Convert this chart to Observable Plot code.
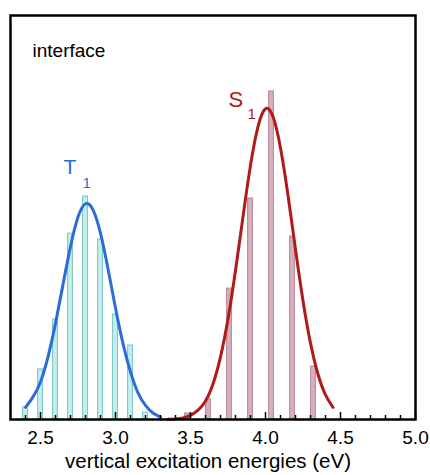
<!DOCTYPE html>
<html><head><meta charset="utf-8">
<script src="https://cdn.jsdelivr.net/npm/d3@7"></script>
<script src="https://cdn.jsdelivr.net/npm/@observablehq/plot@0.6"></script>
<style>body{margin:0;background:#fff}</style>
</head><body><div id="chart"></div>
<script>
// T1 histogram (relative frequency, arbitrary units)
const t1Energies = [2.4, 2.5, 2.6, 2.7, 2.8, 2.9, 3.0, 3.1, 3.2];
const t1Counts   = [3.0, 12.4, 24.8, 46.0, 55.2, 44.6, 26.0, 18.3, 1.7];
// S1 histogram
const s1Energies = [3.48, 3.62, 3.76, 3.90, 4.04, 4.18, 4.32];
const s1Counts   = [1.5, 5.0, 32.4, 54.7, 81.2, 45.3, 13.1];
// fitted curves
const t1CurveE = [2.40, 2.45, 2.50, 2.55, 2.60, 2.65, 2.70, 2.75, 2.80, 2.85, 2.90, 2.95, 3.00, 3.05, 3.10, 3.15, 3.20, 3.25, 3.30];
const t1CurveV = [3.0, 5.6, 9.3, 15.5, 23.8, 33.4, 42.8, 50.1, 53.4, 51.9, 46.1, 37.3, 27.6, 18.8, 11.8, 6.6, 3.5, 1.6, 0.6];
const s1CurveE = [3.35, 3.40, 3.45, 3.50, 3.55, 3.60, 3.65, 3.70, 3.75, 3.80, 3.85, 3.90, 3.95, 4.00, 4.05, 4.10, 4.15, 4.20, 4.25, 4.30, 4.35, 4.40, 4.45];
const s1CurveV = [0.05, 0.15, 0.4, 1.0, 2.3, 4.6, 8.8, 15.5, 24.9, 36.9, 50.2, 62.9, 72.5, 76.9, 75.0, 67.2, 55.5, 42.1, 29.4, 18.9, 11.2, 6.1, 3.0];
// axis ticks and labels
const majorTicks = [2.5, 3.0, 3.5, 4.0, 4.5, 5.0];
const minorTicks = [2.4, 2.6, 2.7, 2.8, 2.9, 3.1, 3.2, 3.3, 3.4, 3.6, 3.7, 3.8, 3.9, 4.1, 4.2, 4.3, 4.4, 4.6, 4.7, 4.8, 4.9];
const xLabel = "vertical excitation energies (eV)";
const panelLabel = "interface";
const stateLabels = [
  {e: 2.653, v: 62.5, t: "T", size: 21, c: "t1"},
  {e: 2.78,  v: 58.5, t: "1", size: 15, c: "t1"},
  {e: 3.753, v: 79.2, t: "S", size: 22, c: "s1"},
  {e: 3.88,  v: 75.6, t: "1", size: 15, c: "s1"}
];

const t1Bars = t1Energies.map((e, i) => ({e, n: t1Counts[i]}));
const s1Bars = s1Energies.map((e, i) => ({e, n: s1Counts[i]}));
const t1Curve = t1CurveE.map((e, i) => ({e, v: t1CurveV[i]}));
const s1Curve = s1CurveE.map((e, i) => ({e, v: s1CurveV[i]}));

const blue = "#2a6dd8", red = "#b01a1a";
const hw = 0.016;

const chart = Plot.plot({
  width: 430, height: 475,
  marginLeft: 10, marginRight: 15, marginTop: 15, marginBottom: 56,
  style: {fontFamily: "'Liberation Sans', Arial, sans-serif", color: "#000", background: "#fff"},
  x: {domain: [2.3, 5.0], axis: null},
  y: {domain: [0, 100], axis: null},
  marks: [
    Plot.rectY(t1Bars, {x1: d => d.e - hw, x2: d => d.e + hw, y: "n", fill: "#c4eeee", stroke: "#78c4c4", strokeWidth: 1}),
    Plot.rectY(s1Bars, {x1: d => d.e - hw, x2: d => d.e + hw, y: "n", fill: "#d8adbe", stroke: "#b98499", strokeWidth: 1}),
    Plot.line(t1Curve, {x: "e", y: "v", stroke: blue, strokeWidth: 3, curve: "natural"}),
    Plot.line(s1Curve, {x: "e", y: "v", stroke: red, strokeWidth: 3, curve: "natural"}),
    Plot.text(stateLabels, {x: "e", y: "v", text: "t", fontSize: d => d.size, fill: d => d.c === "t1" ? blue : red, textAnchor: "start", lineAnchor: "middle"}),
    Plot.text([panelLabel], {frameAnchor: "top-left", dx: 22, dy: 35, fontSize: 19, textAnchor: "start", lineAnchor: "middle", fill: "#000"}),
    Plot.axisX({ticks: majorTicks, tickSize: 0, tickPadding: 10.5, tickFormat: d3.format(".1f"), fontSize: 19, label: null}),
    Plot.axisX({ticks: majorTicks, tickSize: -7, tickFormat: () => "", label: null, strokeWidth: 1.5}),
    Plot.axisX({ticks: minorTicks, tickSize: -4, tickFormat: () => "", label: null, strokeWidth: 1.5}),
    Plot.text([xLabel], {frameAnchor: "bottom", dx: -5, dy: 42.4, fontSize: 20.5, lineAnchor: "middle", fill: "#000"}),
    Plot.frame({stroke: "#000", strokeWidth: 2.5})
  ]
});
document.getElementById("chart").appendChild(chart);
</script>
</body></html>
